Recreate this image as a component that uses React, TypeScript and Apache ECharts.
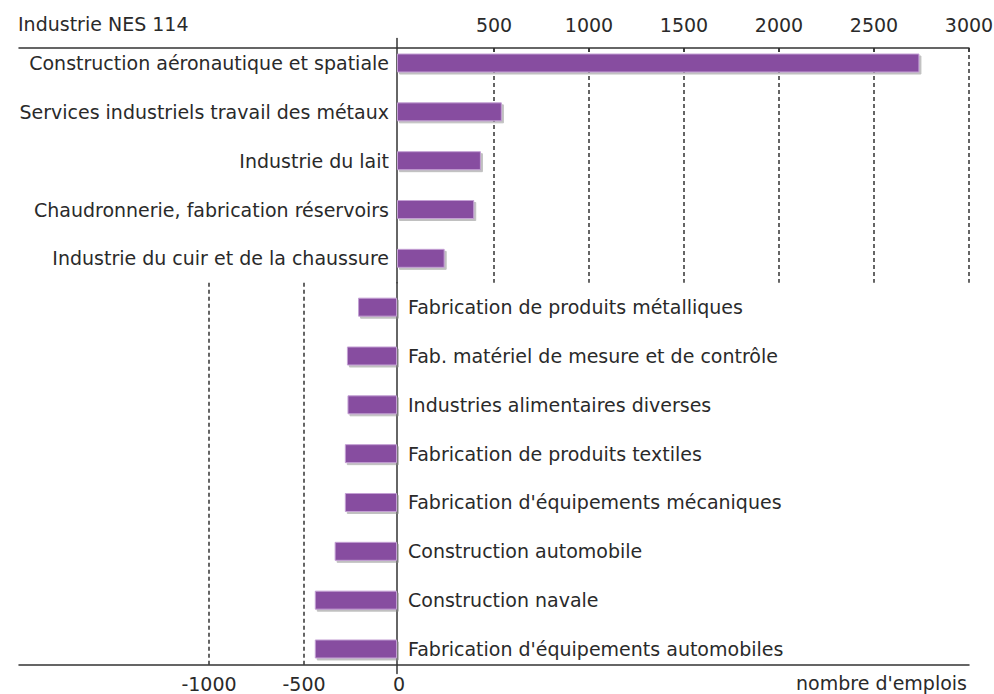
import React, { useEffect, useRef } from 'react';
import * as echarts from 'echarts';

const gainCategories = [
  'Construction aéronautique et spatiale',
  'Services industriels travail des métaux',
  'Industrie du lait',
  'Chaudronnerie, fabrication réservoirs',
  'Industrie du cuir et de la chaussure',
];
const gainValues = [2740, 550, 440, 405, 250];

const lossCategories = [
  'Fabrication de produits métalliques',
  'Fab. matériel de mesure et de contrôle',
  'Industries alimentaires diverses',
  'Fabrication de produits textiles',
  "Fabrication d'équipements mécaniques",
  'Construction automobile',
  'Construction navale',
  "Fabrication d'équipements automobiles",
];
const lossValues = [-206, -265, -262, -276, -276, -330, -435, -435];

const topTickLabels = [500, 1000, 1500, 2000, 2500, 3000];
const bottomTickLabels = [-1000, -500, 0];
const bottomGridValues = [-1000, -500];
const axisMin = -2000;
const axisMax = 3000;
const axisStep = 500;

const titleText = 'Industrie NES 114';
const unitText = "nombre d'emplois";

export default function App() {
  const ref = useRef<HTMLDivElement>(null);

  useEffect(() => {
    if (!ref.current) return;
    const chart = echarts.init(ref.current, null, { renderer: 'svg' });
    const font = 'DejaVu Sans';
    const fs = 19;
    const textColor = '#2a2a2a';
    const dark = '#333333';
    const L = 19;
    const R = 25;
    const W = 994;
    const zeroX = 397;
    const band = 48.83;
    const topA = 38.6;
    const splitY = topA + band * gainCategories.length;
    const bottomB = splitY + band * lossCategories.length;

    const barStyle = {
      color: '#874ea0',
      borderColor: '#c4a0d4',
      borderWidth: 1,
      shadowColor: 'rgba(140,140,140,0.55)',
      shadowOffsetX: 2,
      shadowOffsetY: 2,
      shadowBlur: 0,
    };

    const fmt = (v: number) => String(v);
    const gridBase = { containLabel: false, outerBoundsMode: 'none' };

    chart.setOption({
      animation: false,
      backgroundColor: '#ffffff',
      textStyle: { fontFamily: font },
      grid: [
        { ...gridBase, left: zeroX, right: R, top: topA, height: splitY - topA },
        { ...gridBase, left: L, right: W - zeroX, top: splitY, height: bottomB - splitY },
        { ...gridBase, left: L, right: R, top: 48, height: splitY - 48 },
        { ...gridBase, left: L, right: R, top: splitY, height: 665 - splitY },
      ],
      xAxis: [
        { type: 'value', gridIndex: 0, min: 0, max: axisMax, interval: axisStep, show: false, splitLine: { show: false } },
        { type: 'value', gridIndex: 1, min: axisMin, max: 0, interval: axisStep, show: false, splitLine: { show: false } },
        {
          type: 'value',
          gridIndex: 2,
          position: 'top',
          min: axisMin,
          max: axisMax,
          interval: axisStep,
          axisLine: { show: true, onZero: false, lineStyle: { color: dark, width: 1.5 } },
          axisTick: { show: true, inside: true, length: 4, customValues: topTickLabels, lineStyle: { color: dark, width: 1.5 } },
          axisLabel: { customValues: topTickLabels, formatter: fmt, margin: 14, color: textColor, fontSize: fs, fontFamily: font },
          splitLine: { show: true, lineStyle: { color: dark, width: 1.5, type: [4, 3] } },
        },
        {
          type: 'value',
          gridIndex: 3,
          position: 'bottom',
          min: axisMin,
          max: axisMax,
          interval: axisStep,
          axisLine: { show: true, onZero: false, lineStyle: { color: dark, width: 1.5 } },
          axisTick: { show: false, customValues: bottomGridValues },
          axisLabel: {
            customValues: bottomTickLabels,
            formatter: fmt,
            margin: 9,
            lineHeight: 19,
            color: textColor,
            fontSize: fs,
            fontFamily: font,
          },
          splitLine: { show: true, lineStyle: { color: dark, width: 1.5, type: [4, 3] } },
        },
      ],
      yAxis: [
        {
          type: 'category',
          gridIndex: 0,
          position: 'left',
          data: gainCategories,
          inverse: true,
          axisLine: { show: true, onZero: false, lineStyle: { color: dark, width: 1.5 } },
          axisTick: { show: false },
          axisLabel: { margin: 8, color: textColor, fontSize: fs, fontFamily: font },
          splitLine: { show: false },
        },
        {
          type: 'category',
          gridIndex: 1,
          position: 'right',
          data: lossCategories,
          inverse: true,
          axisLine: { show: true, onZero: false, lineStyle: { color: dark, width: 1.5 } },
          axisTick: { show: false },
          axisLabel: { margin: 11, color: textColor, fontSize: fs, fontFamily: font },
          splitLine: { show: false },
        },
        { type: 'value', gridIndex: 2, show: false, splitLine: { show: false } },
        { type: 'value', gridIndex: 3, show: false, splitLine: { show: false } },
      ],
      series: [
        {
          type: 'bar',
          xAxisIndex: 0,
          yAxisIndex: 0,
          data: gainValues,
          barWidth: 19,
          itemStyle: barStyle,
          z: 3,
        },
        {
          type: 'bar',
          xAxisIndex: 1,
          yAxisIndex: 1,
          data: lossValues,
          barWidth: 19,
          itemStyle: barStyle,
          z: 3,
        },
      ],
      graphic: [
        {
          type: 'text',
          left: 18,
          top: 14,
          style: { text: titleText, fill: textColor, font: `${fs}px "${font}"` },
        },
        {
          type: 'text',
          right: 27,
          top: 673,
          style: { text: unitText, fill: textColor, font: `${fs}px "${font}"`, lineHeight: 19 },
        },
      ],
    });

    return () => chart.dispose();
  }, []);

  return (
    <div
      ref={ref}
      style={{ position: 'fixed', left: 0, top: 0, width: 994, height: 694, background: '#fff' }}
    />
  );
}
